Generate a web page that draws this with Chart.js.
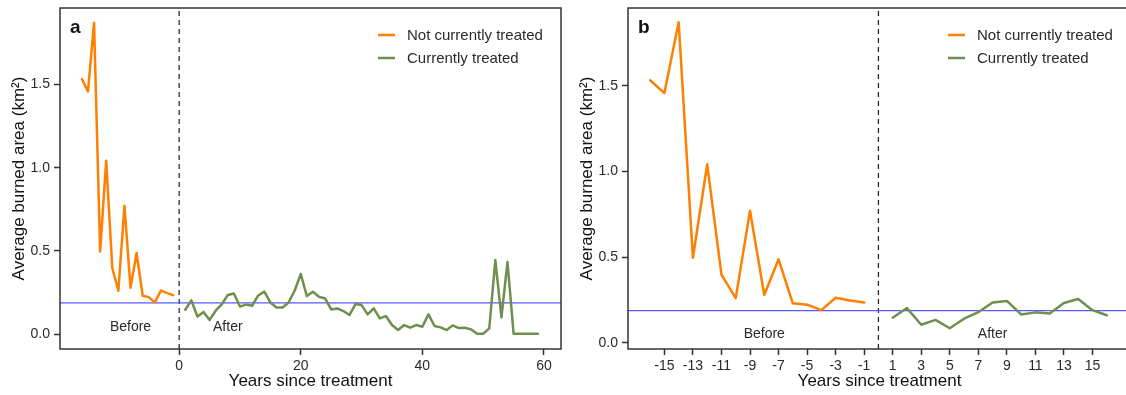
<!DOCTYPE html>
<html>
<head>
<meta charset="utf-8">
<script src="https://cdn.jsdelivr.net/npm/chart.js@4.4.0/dist/chart.umd.min.js"></script>
<style>
  html, body { margin: 0; padding: 0; background: #fff; overflow: hidden; }
  canvas { position: absolute; top: 0; }
  #chartA { left: 0; }
  #chartB { left: 568px; }
</style>
</head>
<body>
<canvas id="chartA" width="568" height="395"></canvas>
<canvas id="chartB" width="568" height="395"></canvas>
<script>
// years relative to treatment
const yearsBefore = [-16, -15, -14, -13, -12, -11, -10, -9, -8, -7, -6, -5, -4, -3, -2, -1];
const yearsAfter = [1, 2, 3, 4, 5, 6, 7, 8, 9, 10, 11, 12, 13, 14, 15, 16, 17, 18, 19, 20,
  21, 22, 23, 24, 25, 26, 27, 28, 29, 30, 31, 32, 33, 34, 35, 36, 37, 38, 39, 40,
  41, 42, 43, 44, 45, 46, 47, 48, 49, 50, 51, 52, 53, 54, 55, 56, 57, 58, 59];

// average burned area, km2
const notTreated = [1.533, 1.458, 1.872, 0.496, 1.042, 0.397, 0.26, 0.771, 0.278, 0.487,
  0.23, 0.222, 0.19, 0.262, 0.246, 0.234];
const treated = [0.146, 0.202, 0.105, 0.133, 0.084, 0.14, 0.178, 0.235, 0.244, 0.165,
  0.177, 0.17, 0.232, 0.255, 0.19, 0.16, 0.16, 0.19, 0.262, 0.361,
  0.228, 0.254, 0.224, 0.214, 0.148, 0.154, 0.138, 0.114, 0.18, 0.174,
  0.118, 0.154, 0.094, 0.108, 0.054, 0.024, 0.054, 0.038, 0.054, 0.044,
  0.118, 0.048, 0.04, 0.024, 0.052, 0.036, 0.038, 0.028, 0.002, 0.002,
  0.034, 0.445, 0.1, 0.433, 0.002, 0.002, 0.002, 0.002, 0.002];
const baseline = 0.187;

const yTicks = [0, 0.5, 1, 1.5];
const xTicksA = [0, 20, 40, 60];
const xTicksB = [-15, -13, -11, -9, -7, -5, -3, -1, 1, 3, 5, 7, 9, 11, 13, 15];

const ORANGE = "#ff7f00";
const GREEN = "#6f8f4e";
const BLUE = "#5a5aff";
const INK = "#2a2a2a";
const FONT = "'Liberation Sans', Arial, sans-serif";

function pairs(xs, ys) {
  return xs.map((x, i) => ({ x, y: ys[i] }));
}

// box around the plot, legend, panel letter and Before/After notes
const panelDecor = {
  id: "panelDecor",
  afterDraw(chart, args, opts) {
    const { ctx, chartArea, scales } = chart;
    ctx.save();
    ctx.strokeStyle = "#333";
    ctx.lineWidth = 1.5;
    ctx.strokeRect(chartArea.left, chartArea.top,
      chartArea.right - chartArea.left, chartArea.bottom - chartArea.top);

    ctx.fillStyle = "#111";
    ctx.font = "bold 19px " + FONT;
    ctx.textBaseline = "alphabetic";
    ctx.textAlign = "left";
    ctx.fillText(opts.letter, chartArea.left + 10, chartArea.top + 25);

    ctx.font = "14px " + FONT;
    ctx.fillStyle = INK;
    ctx.textAlign = "center";
    ctx.textBaseline = "middle";
    opts.notes.forEach((n) => {
      ctx.fillText(n.text, scales.x.getPixelForValue(n.x), scales.y.getPixelForValue(n.y));
    });

    ctx.font = "15px " + FONT;
    ctx.textAlign = "left";
    chart.data.datasets.filter((d) => d.label).forEach((d, i) => {
      const y = chartArea.top + 27 + i * 23;
      const x0 = chartArea.right - 183;
      ctx.strokeStyle = d.borderColor;
      ctx.lineWidth = 2.5;
      ctx.beginPath();
      ctx.moveTo(x0, y);
      ctx.lineTo(x0 + 17, y);
      ctx.stroke();
      ctx.fillStyle = INK;
      ctx.fillText(d.label, x0 + 29, y + 1);
    });
    ctx.restore();
  },
};

// keep the plot box exactly where the layout padding puts it
function noEdgePadding(s) {
  s.paddingTop = 0;
  s.paddingBottom = 0;
  s.paddingLeft = 0;
  s.paddingRight = 0;
}

function makePanel(id, cfg) {
  const tickFont = { family: FONT, size: 14 };
  const titleFont = { family: FONT, size: 17 };
  const line = { pointRadius: 0, tension: 0, borderJoinStyle: "round", borderCapStyle: "round" };
  return new Chart(document.getElementById(id).getContext("2d"), {
    type: "line",
    data: {
      datasets: [
        { label: "Not currently treated", data: pairs(yearsBefore, cfg.before),
          borderColor: ORANGE, borderWidth: 2.5, ...line },
        { label: "Currently treated", data: pairs(cfg.afterYears, cfg.after),
          borderColor: GREEN, borderWidth: 2.5, ...line },
        { data: [{ x: cfg.xMin, y: baseline }, { x: cfg.xMax, y: baseline }],
          borderColor: BLUE, borderWidth: 1.2, pointRadius: 0 },
        { data: [{ x: 0, y: cfg.yMin }, { x: 0, y: cfg.yMax }],
          borderColor: INK, borderWidth: 1.3, borderDash: [5, 4], pointRadius: 0 },
      ],
    },
    options: {
      animation: false,
      responsive: false,
      layout: { padding: { left: 0, right: cfg.padRight, top: 8, bottom: 0 } },
      plugins: {
        legend: { display: false },
        tooltip: { enabled: false },
        panelDecor: { letter: cfg.letter, notes: cfg.notes },
      },
      scales: {
        x: {
          type: "linear",
          min: cfg.xMin,
          max: cfg.xMax,
          afterBuildTicks: (s) => { s.ticks = cfg.xTicks.map((v) => ({ value: v })); },
          afterFit: (s) => { s.height = 46; noEdgePadding(s); },
          border: { display: false },
          grid: { drawOnChartArea: false, tickLength: 6, tickColor: "#333", tickWidth: 1.5 },
          ticks: { font: tickFont, color: INK, padding: 3, maxRotation: 0, autoSkip: false },
          title: { display: true, text: "Years since treatment", font: titleFont,
            color: "#111", padding: { top: 0, bottom: 3 } },
        },
        y: {
          min: cfg.yMin,
          max: cfg.yMax,
          afterBuildTicks: (s) => { s.ticks = yTicks.map((v) => ({ value: v })); },
          afterFit: (s) => { s.width = 60; noEdgePadding(s); },
          border: { display: false },
          grid: { drawOnChartArea: false, tickLength: 6, tickColor: "#333", tickWidth: 1.5 },
          ticks: { font: tickFont, color: INK, padding: 4, callback: (v) => v.toFixed(1) },
          title: { display: true, text: "Average burned area (km²)", font: titleFont,
            color: "#111", padding: { top: 9, bottom: 0 } },
        },
      },
    },
    plugins: [panelDecor],
  });
}

makePanel("chartA", {
  letter: "a",
  before: notTreated,
  afterYears: yearsAfter,
  after: treated,
  xMin: -19.6, xMax: 62.8,
  yMin: -0.09, yMax: 1.96,
  xTicks: xTicksA,
  padRight: 7,
  notes: [{ text: "Before", x: -8, y: 0.042 }, { text: "After", x: 8, y: 0.042 }],
});

makePanel("chartB", {
  letter: "b",
  before: notTreated,
  afterYears: yearsAfter.slice(0, 16),
  after: treated.slice(0, 16),
  xMin: -17.55, xMax: 17.7,
  yMin: -0.037, yMax: 1.955,
  xTicks: xTicksB,
  padRight: 5,
  notes: [{ text: "Before", x: -8, y: 0.05 }, { text: "After", x: 8, y: 0.05 }],
});
</script>
</body>
</html>
